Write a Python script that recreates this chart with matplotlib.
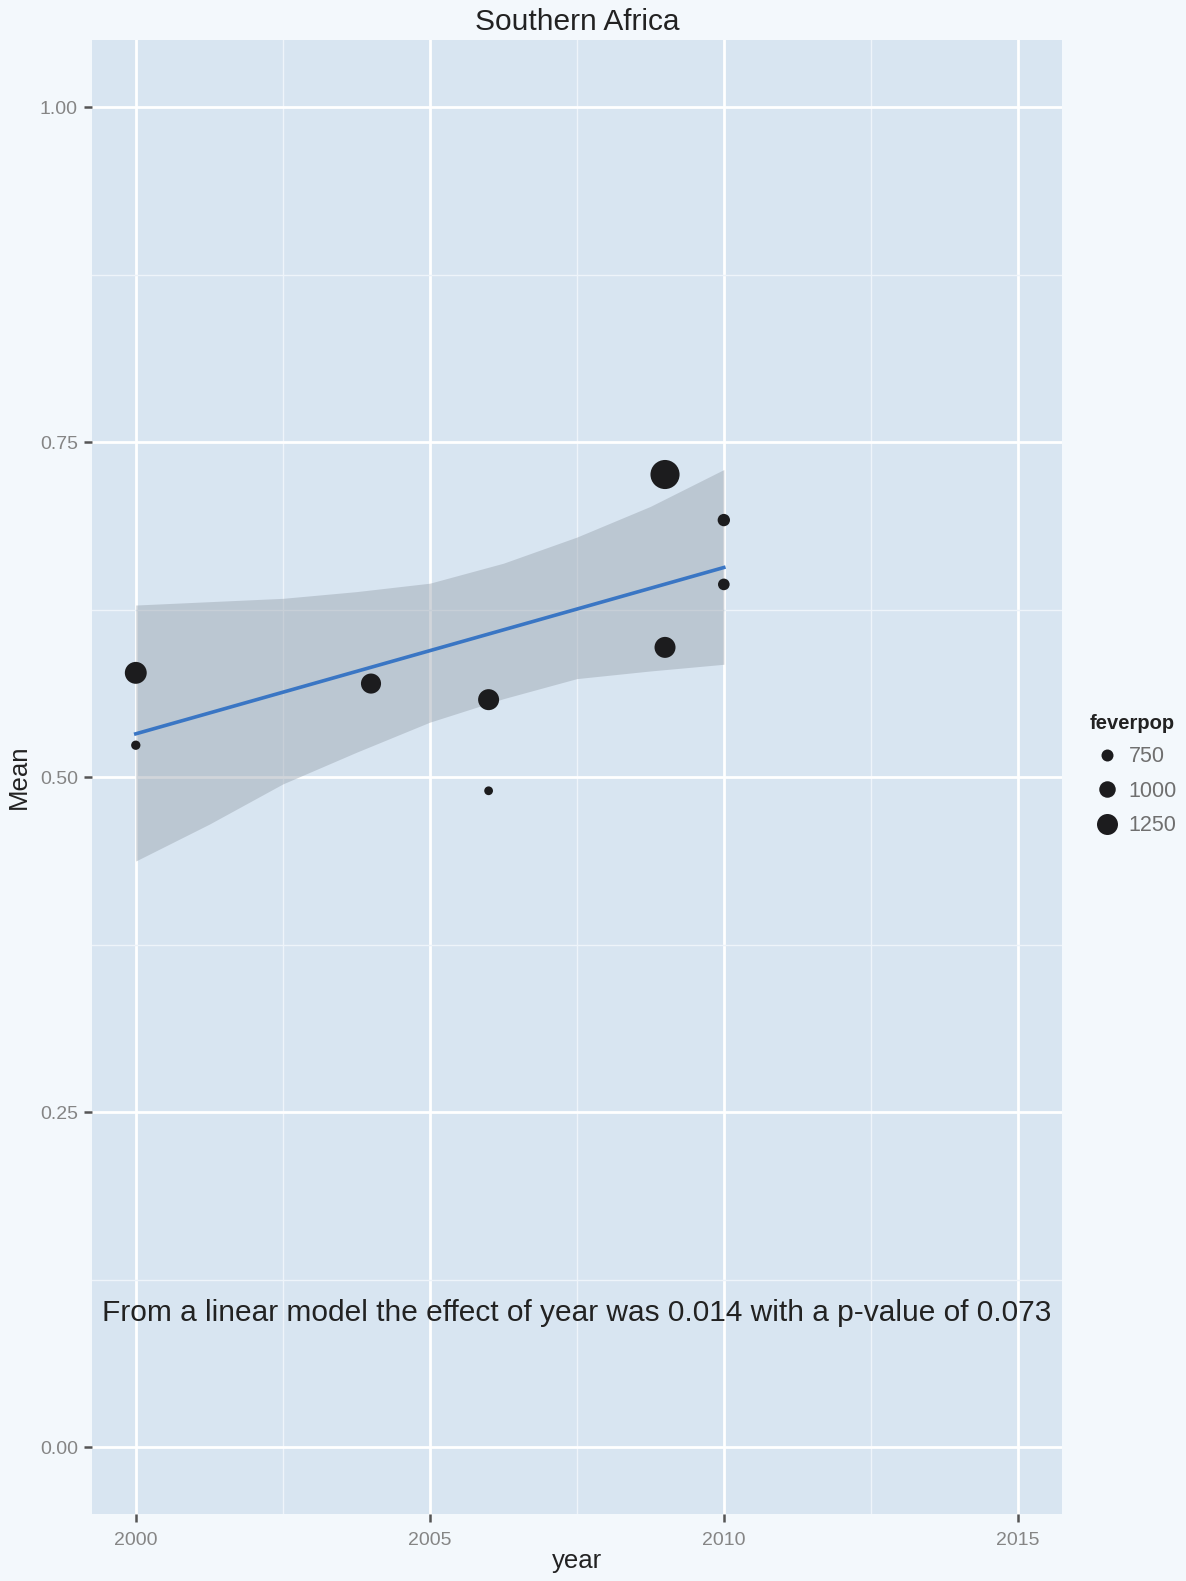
import numpy as np
import matplotlib.pyplot as plt
from matplotlib.lines import Line2D

plt.rcParams['font.family'] = ['Liberation Sans', 'DejaVu Sans']

# Data
year = np.array([2000, 2000, 2004, 2006, 2006, 2009, 2009, 2010, 2010])
mean = np.array([0.578, 0.524, 0.570, 0.558, 0.490, 0.726, 0.597, 0.692, 0.644])
feverpop = np.array([1300, 600, 1200, 1250, 570, 1700, 1250, 770, 730])

# fitted line and its confidence band
fit_x = np.array([2000, 2010])
fit_y = np.array([0.5325, 0.6566])
band_x = np.array([2000, 2001.25, 2002.5, 2003.75, 2005, 2006.25, 2007.5, 2008.75, 2010])
band_hi = np.array([0.6286, 0.6311, 0.6336, 0.6386, 0.6449, 0.6598, 0.6793, 0.7022, 0.7297])
band_lo = np.array([0.4376, 0.4651, 0.4951, 0.5187, 0.5412, 0.5587, 0.5737, 0.5794, 0.5844])

legend_vals = [750, 1000, 1250]
x_ticks = [2000, 2005, 2010, 2015]
y_ticks = [0.00, 0.25, 0.50, 0.75, 1.00]
note = "From a linear model the effect of year was 0.014 with a p-value of 0.073"


def diam_pt(v):
    # marker diameter in points, grows with feverpop
    return (0.018 * np.asarray(v) - 1.5) * 0.72


fig_bg = "#f3f8fc"
panel_bg = "#d8e5f1"

fig = plt.figure(figsize=(11.86, 15.81), dpi=100, facecolor=fig_bg)
ax = fig.add_axes([0.0773, 0.0421, 0.8181, 0.9324])
ax.set_facecolor(panel_bg)

ax.set_xlim(1999.25, 2015.75)
ax.set_ylim(-0.05, 1.05)

# grid like ggplot grey theme
ax.set_xticks(x_ticks)
ax.set_yticks(y_ticks)
ax.set_xticks([2002.5, 2007.5, 2012.5], minor=True)
ax.set_yticks([0.125, 0.375, 0.625, 0.875], minor=True)
ax.grid(which="major", color="white", linewidth=2.0)
ax.grid(which="minor", color="#eef4fa", linewidth=1.0)
ax.set_axisbelow(True)
for s in ax.spines.values():
    s.set_visible(False)

ax.set_xticklabels([str(t) for t in x_ticks])
ax.set_yticklabels([f"{t:.2f}" for t in y_ticks])
ax.tick_params(which="major", length=6, width=1.8, color="#555555",
               labelsize=14, labelcolor="#858585", pad=4)
ax.tick_params(axis="x", pad=7)
ax.tick_params(which="minor", length=0)

# confidence band + fitted line
ax.fill_between(band_x, band_lo, band_hi, color="#99a3ae", alpha=0.45, linewidth=0, zorder=2)
ax.plot(fit_x, fit_y, color="#3a76c4", linewidth=2.6, zorder=3)

ax.scatter(year, mean, s=diam_pt(feverpop) ** 2, color="#1c1c1e", linewidths=0, zorder=4)

ax.text(2007.5, 0.1, note, ha="center", va="center", fontsize=21.5, color="#222222")

fig.text(577 / 1186, 1 - 22 / 1581, "Southern Africa", ha="center", va="center",
         fontsize=21.5, color="#222222")
fig.text(577 / 1186, 1 - 1561 / 1581, "year", ha="center", va="center",
         fontsize=18.5, color="#222222")
fig.text(19 / 1186, 1 - 777 / 1581, "Mean", ha="center", va="center",
         rotation=90, fontsize=18.5, color="#222222")

handles = [Line2D([], [], linestyle="none", marker="o", markersize=diam_pt(v),
                  markerfacecolor="#1c1c1e", markeredgewidth=0) for v in legend_vals]
leg = fig.legend(handles, [str(v) for v in legend_vals], title="feverpop",
                 loc="upper left", bbox_to_anchor=(1081 / 1186, 1 - 705 / 1581),
                 frameon=False, fontsize=15.5, title_fontsize=14.5, alignment="left",
                 handletextpad=0.17, labelspacing=0.63, borderaxespad=0,
                 handlelength=1.65)
leg.get_title().set_fontweight("bold")
leg.get_title().set_color("#222222")
for t in leg.get_texts():
    t.set_color("#6f6f6f")

fig.savefig("out.png", dpi=100, facecolor=fig_bg)
